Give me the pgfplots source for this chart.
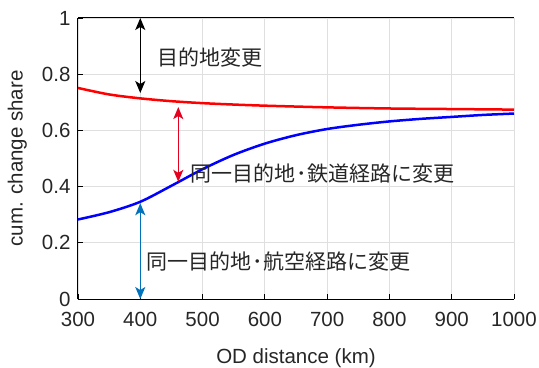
\documentclass[border=0pt]{standalone}
\usepackage{fontspec}
\setmainfont{Liberation Sans}
\newfontfamily\jp{Noto Sans CJK JP}
\usepackage{pgfplots}
\pgfplotsset{compat=1.18}
\usetikzlibrary{arrows.meta}
\definecolor{mblue}{rgb}{0,0.447,0.741}
\definecolor{mred}{rgb}{0.9,0,0.12}
\newcommand{\jdot}{\kern0.05em ･\kern0.05em}
\begin{document}
\begin{tikzpicture}
\begin{axis}[
  scale only axis, width=436pt, height=281pt,
  xmin=300, xmax=1000, ymin=0, ymax=1,
  xtick={300,400,...,1000}, ytick={0,0.2,...,1},
  yticklabels={0,0.2,0.4,0.6,0.8,1},
  axis x line*=box, axis y line*=left,
  xtick pos=lower, ytick pos=left,
  tick align=inside, major tick length=5pt,
  grid=major, grid style={gray!25, line width=0.8pt},
  axis line style={black, line width=1pt},
  tick style={black, line width=0.8pt},
  /pgf/number format/assume math mode=true,
  ticklabel style={font=\fontsize{20.5}{23}\selectfont, text=black!85},
  label style={font=\fontsize{20.5}{23}\selectfont, text=black!85},
  xticklabel shift=10pt, yticklabel shift=4pt,
  xlabel={OD distance (km)}, ylabel={cum. change share},
  xlabel style={at={(axis description cs:0.5,0)}, anchor=base, yshift=-64pt},
  ylabel style={at={(axis description cs:-0.127,0.5)}, anchor=base, rotate=0},
  scaled x ticks=false,
  xticklabel style={/pgf/number format/1000 sep={}},
  clip=false,
]
\addplot[red, line width=2.5pt, smooth] coordinates {
(300,0.751)(350,0.728)(400,0.714)(450,0.704)(500,0.697)(550,0.692)(600,0.688)(700,0.682)(800,0.678)(900,0.676)(1000,0.674)};
\addplot[blue, line width=2.5pt, smooth] coordinates {
(300,0.283)(350,0.309)(400,0.346)(450,0.403)(500,0.462)(550,0.513)(600,0.553)(650,0.583)(700,0.605)(750,0.620)(800,0.632)(850,0.641)(900,0.648)(950,0.655)(1000,0.660)};
\draw[black, line width=1.5pt, {Stealth[length=12pt,width=10pt,inset=3pt]}-{Stealth[length=12pt,width=10pt,inset=3pt]}] (axis cs:400,1) -- (axis cs:400,0.733);
\draw[mred, line width=1.5pt, {Stealth[length=12pt,width=10pt,inset=3pt]}-{Stealth[length=12pt,width=10pt,inset=3pt]}] (axis cs:461,0.683) -- (axis cs:461,0.417);
\draw[mblue, line width=1.5pt, {Stealth[length=12pt,width=10pt,inset=3pt]}-{Stealth[length=12pt,width=10pt,inset=3pt]}] (axis cs:400,0.341) -- (axis cs:400,0);
\node[anchor=west, font=\jp\fontsize{21}{23}\selectfont, text=black!85, inner sep=0pt] at (axis cs:428,0.859) {目的地変更};
\node[anchor=west, font=\jp\fontsize{21}{23}\selectfont, text=black!85, inner sep=0pt] at (axis cs:480,0.448) {同一目的地\jdot 鉄道経路に変更};
\node[anchor=west, font=\jp\fontsize{21}{23}\selectfont, text=black!85, inner sep=0pt] at (axis cs:409,0.133) {同一目的地\jdot 航空経路に変更};
\path (rel axis cs:0,0) ++(-78pt,-68pt) coordinate (bl);
\path (rel axis cs:1,1) ++(25pt,18pt) coordinate (tr);
\end{axis}
\pgfresetboundingbox
\path (bl) rectangle (tr);
\end{tikzpicture}
\end{document}
